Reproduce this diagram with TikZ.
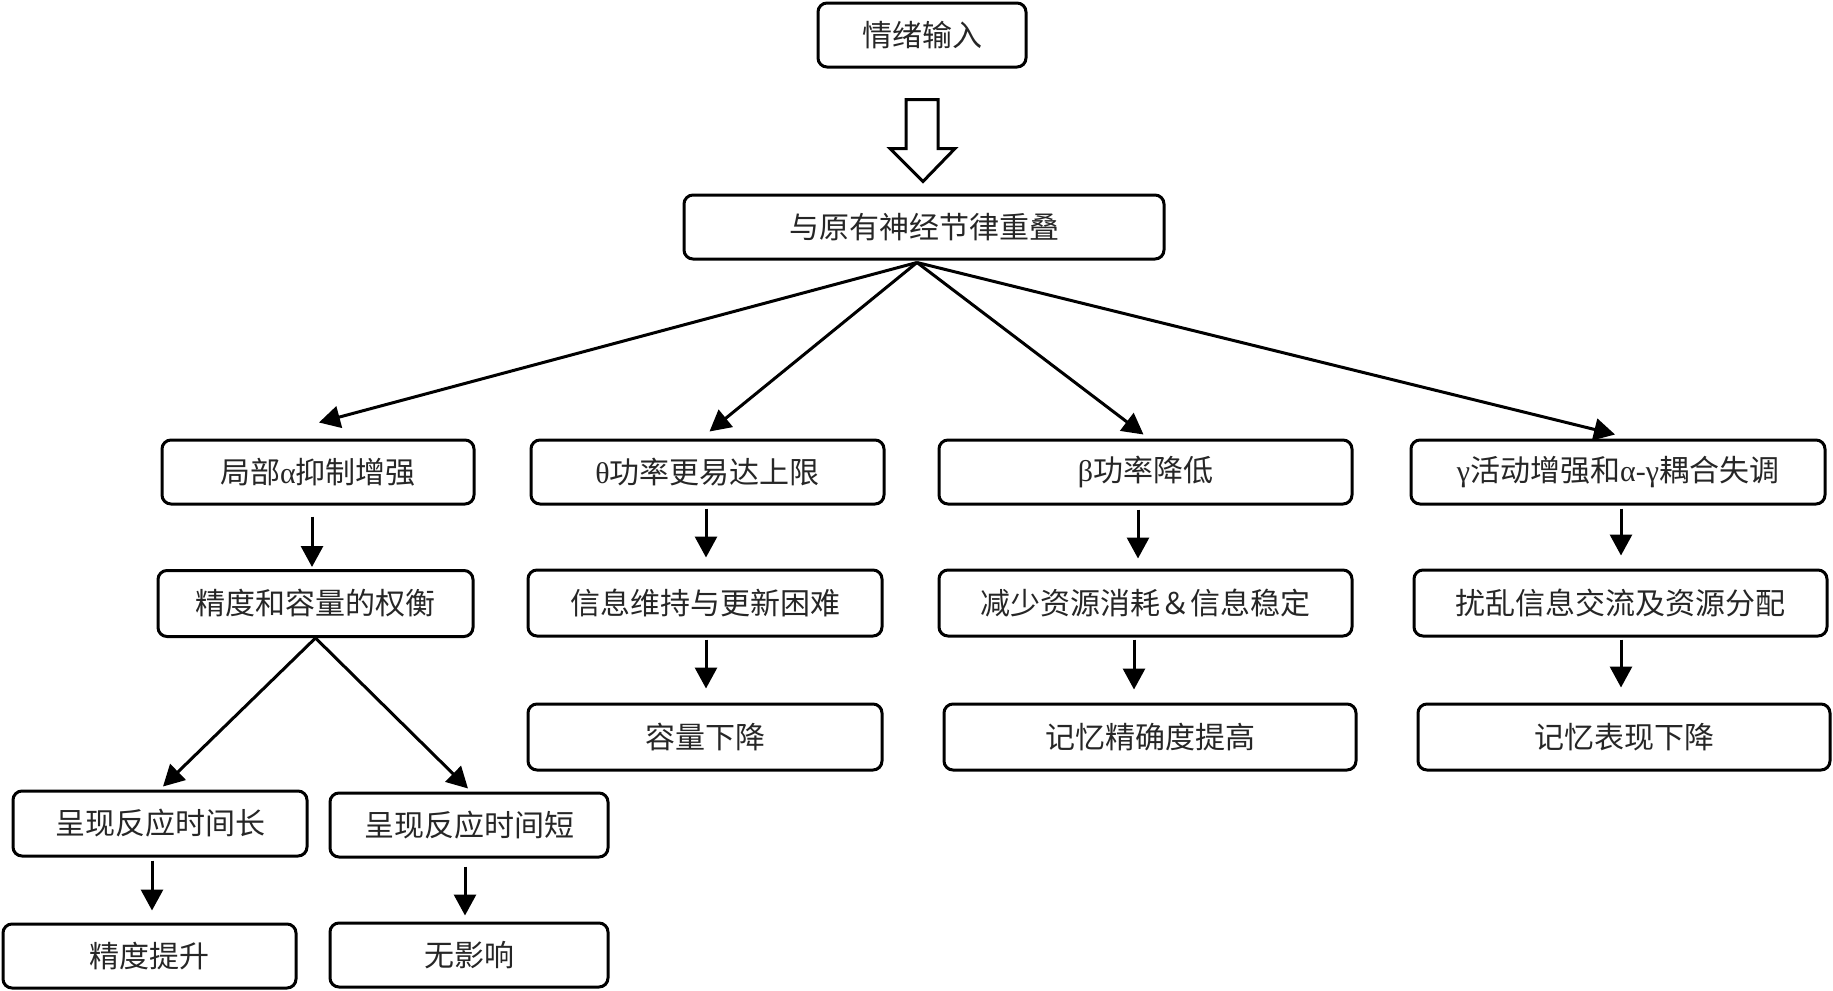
\documentclass[tikz,border=0pt]{standalone}
\usepackage{fontspec}
\setmainfont{Noto Sans CJK SC}
\newfontfamily\gr{Liberation Serif}
\usetikzlibrary{arrows.meta,calc}
\begin{document}
\begin{tikzpicture}[x=0.5pt,y=-0.5pt,
  box/.style={draw, line width=1.5pt, rounded corners=4.5pt, inner sep=0pt,
    font=\fontsize{15pt}{18pt}\selectfont, text=black!85, fill=white},
  arr/.style={line width=1.5pt, -{Triangle[length=10.5pt,width=11pt]}},
  hollow/.style={draw, line width=1.5pt, line join=miter, fill=white}]
\useasboundingbox[fill=white] (0,0) rectangle (1833,991);

\node[box, minimum width=104pt, minimum height=32pt] (in) at (922,35) {情绪输入};
\node[box, minimum width=240pt, minimum height=32pt] (ov) at (924,227) {与原有神经节律重叠};

\node[box, minimum width=156pt, minimum height=32pt] (r2a) at (318,472) {局部{\gr α}抑制增强};
\node[box, minimum width=176.5pt, minimum height=32pt] (r2b) at (707.5,472) {{\gr θ}功率更易达上限};
\node[box, minimum width=206.5pt, minimum height=32pt] (r2c) at (1145.5,472) {{\gr β}功率降低};
\node[box, minimum width=207pt, minimum height=32pt] (r2d) at (1618,472) {{\gr γ}活动增强和{\gr α-γ}耦合失调};

\node[box, minimum width=157.5pt, minimum height=33pt] (r3a) at (315.5,603.5) {精度和容量的权衡};
\node[box, minimum width=177pt, minimum height=33pt] (r3b) at (705,603) {信息维持与更新困难};
\node[box, minimum width=206.5pt, minimum height=33pt] (r3c) at (1145.5,603) {减少资源消耗＆信息稳定};
\node[box, minimum width=206.5pt, minimum height=33pt] (r3d) at (1620.5,603) {扰乱信息交流及资源分配};

\node[box, minimum width=177pt, minimum height=33pt] (r4b) at (705,737) {容量下降};
\node[box, minimum width=206pt, minimum height=33pt] (r4c) at (1150,737) {记忆精确度提高};
\node[box, minimum width=206pt, minimum height=33pt] (r4d) at (1624,737) {记忆表现下降};

\node[box, minimum width=147pt, minimum height=32.5pt] (r5a) at (160,823.5) {呈现反应时间长};
\node[box, minimum width=139pt, minimum height=32pt] (r5b) at (469,825) {呈现反应时间短};
\node[box, minimum width=146.5pt, minimum height=32pt] (r6a) at (149.5,956) {精度提升};
\node[box, minimum width=139pt, minimum height=32pt] (r6b) at (469,955) {无影响};

% hollow block arrow
\draw[hollow] ($(in.south)+(-16,31)$) -- ($(in.south)+(16,31)$) -- ($(in.south)+(16,80)$)
  -- ($(in.south)+(33,80)$) -- ($(in.south)+(1,113)$) -- ($(in.south)+(-32,80)$)
  -- ($(in.south)+(-16,80)$) -- cycle;

% fan-out
\coordinate (hub) at ($(ov.south)+(-7,2)$);
\draw[arr] (hub) -- ($(r2a.north)+(1,-16)$);
\draw[arr] (hub) -- ($(r2b.north)+(2,-7)$);
\draw[arr] (hub) -- ($(r2c.north)+(-2,-4)$);
\draw[arr] (hub) -- ($(r2d.north)+(-3,-4)$);

% verticals
\draw[arr] ($(r2a.south)+(-6,11)$) -- ($(r3a.north)+(-3.5,-2)$);
\draw[arr] ($(r2b.south)+(-1.5,3)$) -- ($(r3b.north)+(1,-11)$);
\draw[arr] ($(r3b.south)+(1,2)$) -- ($(r4b.north)+(1,-14)$);
\draw[arr] ($(r2c.south)+(-7.5,4)$) -- ($(r3c.north)+(-7.5,-10)$);
\draw[arr] ($(r3c.south)+(-11.5,2)$) -- ($(r4c.north)+(-16,-13)$);
\draw[arr] ($(r2d.south)+(3,3)$) -- ($(r3d.north)+(0.5,-13)$);
\draw[arr] ($(r3d.south)+(0.5,2)$) -- ($(r4d.north)+(-3,-15)$);

% left branch
\draw[arr] (r3a.south) -- ($(r5a.north)+(3,-3)$);
\draw[arr] (r3a.south) -- ($(r5b.north)+(-1,-3)$);
\draw[arr] ($(r5a.south)+(-8,3)$) -- ($(r6a.north)+(2.5,-12)$);
\draw[arr] ($(r5b.south)+(-4,8)$) -- ($(r6b.north)+(-4,-6)$);
\end{tikzpicture}
\end{document}
